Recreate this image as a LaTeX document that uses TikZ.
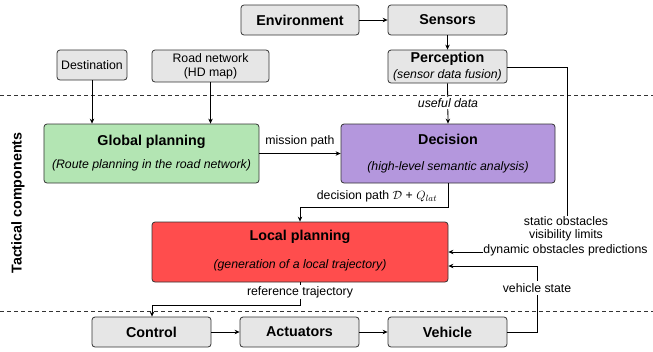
\documentclass[tikz,border=0pt]{standalone}
\usepackage{fontspec}
\setmainfont{Liberation Sans}
\usetikzlibrary{arrows.meta}
\definecolor{boxgray}{HTML}{E6E6E6}
\definecolor{boxgreen}{HTML}{B3E5B3}
\definecolor{boxpurple}{HTML}{B497DD}
\definecolor{boxred}{HTML}{FF4D4D}
\definecolor{edge}{HTML}{333333}
\tikzset{
  box/.style={draw=edge, line width=0.8bp, rounded corners=3bp, inner sep=0pt},
  graybox/.style={box, fill=boxgray},
  ttl/.style={font=\fontsize{14.3bp}{16bp}\selectfont\bfseries, inner sep=0pt},
  sub/.style={font=\fontsize{12.3bp}{14bp}\selectfont\itshape, inner sep=0pt},
  lbl/.style={font=\fontsize{12.3bp}{14bp}\selectfont, inner sep=0pt},
  conn/.style={draw=black, line width=0.8bp},
  arr/.style={conn, -{Stealth[length=5bp,width=4.5bp]}},
  sep/.style={draw=edge, line width=0.8bp, dash pattern=on 4bp off 3bp},
}
\begin{document}
\begin{tikzpicture}[x=1bp,y=-1bp]
\useasboundingbox (0,0) rectangle (653,351);
% separators
\coordinate (s1l) at (0,95); \coordinate (s1r) at (653,95);
\coordinate (s2l) at (0,311); \coordinate (s2r) at (653,311);
\draw[sep] (s1l) -- (s1r);
\draw[sep] (s2l) -- (s2r);
% boxes
\node[graybox, minimum width=118bp, minimum height=30bp] (env) at (300,20) {};
\node[ttl] (envt) at (env.center) {Environment};
\node[graybox, minimum width=119bp, minimum height=30bp] (sens) at (447.5,20) {};
\node[ttl] (senst) at (sens.center) {Sensors};
\node[graybox, minimum width=119bp, minimum height=33bp] (perc) at (447.5,66.5) {};
\node[ttl] (perct) at (447.5,59) {Perception};
\node[sub] (percs) at (447.5,75) {(sensor data fusion)};
\node[graybox, minimum width=70bp, minimum height=30bp] (dest) at (92,65) {};
\node[lbl] (destt) at (dest.center) {Destination};
\node[graybox, minimum width=117bp, minimum height=32bp] (road) at (210.5,66) {};
\node[lbl, align=center] (roadt) at (road.center) {Road network\\(HD map)};
\node[box, fill=boxgreen, minimum width=215bp, minimum height=59bp] (glob) at (151.5,153.5) {};
\node[ttl] (globt) at (151.5,142) {Global planning};
\node[sub] (globs) at (151.5,165) {(Route planning in the road network)};
\node[box, fill=boxpurple, minimum width=214bp, minimum height=59bp] (dec) at (448,153.5) {};
\node[ttl] (dect) at (448,139.5) {Decision};
\node[sub] (decs) at (448,167) {(high-level semantic analysis)};
\node[box, fill=boxred, minimum width=296bp, minimum height=60bp] (loc) at (300,252) {};
\node[ttl] (loct) at (300,237) {Local planning};
\node[sub] (locs) at (300,265) {(generation of a local trajectory)};
\node[graybox, minimum width=119bp, minimum height=30bp] (ctrl) at (151.5,332) {};
\node[ttl] (ctrlt) at (ctrl.center) {Control};
\node[graybox, minimum width=119bp, minimum height=30bp] (act) at (299.5,332) {};
\node[ttl] (actt) at (act.center) {Actuators};
\node[graybox, minimum width=119bp, minimum height=30bp] (veh) at (447.5,332) {};
\node[ttl] (veht) at (veh.center) {Vehicle};
% side label
\node[ttl, rotate=90] (tact) at (18,203) {Tactical components};
% connectors
\draw[arr] (env.east) -- (sens.west);
\draw[arr] (sens.south) -- (perc.north);
\draw[arr] (perc.south) -- (dec.north);
\node[sub, fill=white, inner sep=1.5bp] (useful) at (448,103) {useful data};
\draw[arr] (dest.south) -- (dest.south |- glob.north);
\draw[arr] (road.south) -- (road.south |- glob.north);
\draw[arr] (glob.east) -- (dec.west);
\node[lbl] (mission) at (300,141) {mission path};
\coordinate (dp1) at (448,207);
\coordinate (dp2) at (300,207);
\draw[arr] (dec.south) -- (dp1) -- (dp2) -- (dp2 |- loc.north);
\node[lbl] (dpath) at (377,196) {decision path $\mathcal{D}$ + $Q_{lat}$};
\node[lbl] (stat) at (566,221) {static obstacles};
\node[lbl] (vis) at (566,235.5) {visibility limits};
\node[lbl] (dyn) at (565.5,250) {dynamic obstacles predictions};
\coordinate (pc) at (567,67);
\draw[conn] (perc.east |- pc) -- (pc) -- (pc |- stat.north);
\draw[arr] (dyn.west |- 0,252) -- (loc.east |- 0,252);
\coordinate (rt1) at (300,305);
\coordinate (rt2) at (152,305);
\draw[arr] (loc.south -| rt1) -- (rt1) -- (rt2) -- (rt2 |- ctrl.north);
\node[lbl, fill=white, inner sep=1.5bp] (reft) at (300,292) {reference trajectory};
\draw[arr] (ctrl.east) -- (act.west);
\draw[arr] (act.east) -- (veh.west);
\coordinate (vs1) at (537,332);
\coordinate (vs2) at (537,266);
\draw[arr] (veh.east) -- (vs1) -- (vs2) -- (loc.east |- vs2);
\node[lbl, fill=white, inner sep=2bp] (vstate) at (537,288) {vehicle state};
\end{tikzpicture}
\end{document}
